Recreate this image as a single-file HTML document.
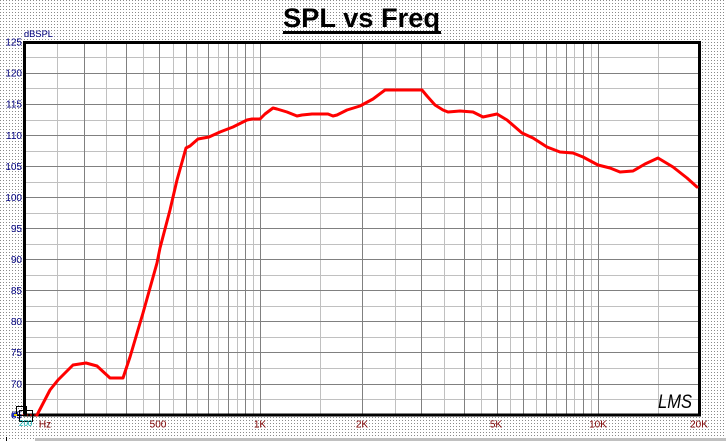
<!DOCTYPE html>
<html>
<head>
<meta charset="utf-8">
<style>
  html,body{margin:0;padding:0;background:#fff;}
  svg{display:block;}
  text{font-family:"Liberation Sans",Arial,sans-serif;}
</style>
</head>
<body>
<svg width="726" height="441" viewBox="0 0 726 441" xmlns="http://www.w3.org/2000/svg">
  <defs>
    <pattern id="dots" x="0" y="0" width="3" height="3" patternUnits="userSpaceOnUse">
      <rect width="3" height="3" fill="#ffffff"/>
      <rect x="0" y="0" width="1" height="1" fill="#8a8a8a"/>
    </pattern>
  </defs>
  <!-- background -->
  <rect x="0" y="0" width="726" height="441" fill="url(#dots)"/>
  <!-- bottom bar -->
  <rect x="35" y="438" width="691" height="3" fill="#c0c0c0"/>
  <rect x="6" y="437" width="1" height="4" fill="#000"/>

  <!-- title -->
  <text x="283" y="27" font-size="27" font-weight="bold" fill="#000" textLength="157" lengthAdjust="spacingAndGlyphs">SPL vs Freq</text>
  <rect x="283" y="31" width="158" height="3" fill="#000"/>

  <!-- plot area -->
  <rect x="24" y="42" width="676" height="373" fill="#ffffff"/>

  <g shape-rendering="crispEdges" stroke-width="1">
    <!-- light horizontal -->
    <g stroke="#c0c0c0">
      <line x1="25" x2="699" y1="57.5" y2="57.5"/>
      <line x1="25" x2="699" y1="88.5" y2="88.5"/>
      <line x1="25" x2="699" y1="120.5" y2="120.5"/>
      <line x1="25" x2="699" y1="151.5" y2="151.5"/>
      <line x1="25" x2="699" y1="182.5" y2="182.5"/>
      <line x1="25" x2="699" y1="213.5" y2="213.5"/>
      <line x1="25" x2="699" y1="244.5" y2="244.5"/>
      <line x1="25" x2="699" y1="275.5" y2="275.5"/>
      <line x1="25" x2="699" y1="306.5" y2="306.5"/>
      <line x1="25" x2="699" y1="337.5" y2="337.5"/>
      <line x1="25" x2="699" y1="368.5" y2="368.5"/>
      <line x1="25" x2="699" y1="399.5" y2="399.5"/>
    </g>
    <!-- light vertical -->
    <g stroke="#c0c0c0">
      <line y1="43" y2="414" x1="57.5" x2="57.5"/>
      <line y1="43" y2="414" x1="106.5" x2="106.5"/>
      <line y1="43" y2="414" x1="143.5" x2="143.5"/>
      <line y1="43" y2="414" x1="173.5" x2="173.5"/>
      <line y1="43" y2="414" x1="197.5" x2="197.5"/>
      <line y1="43" y2="414" x1="218.5" x2="218.5"/>
      <line y1="43" y2="414" x1="237.5" x2="237.5"/>
      <line y1="43" y2="414" x1="253.5" x2="253.5"/>
      <line y1="43" y2="414" x1="320.5" x2="320.5"/>
      <line y1="43" y2="414" x1="395.5" x2="395.5"/>
      <line y1="43" y2="414" x1="444.5" x2="444.5"/>
      <line y1="43" y2="414" x1="481.5" x2="481.5"/>
      <line y1="43" y2="414" x1="510.5" x2="510.5"/>
      <line y1="43" y2="414" x1="536.5" x2="536.5"/>
      <line y1="43" y2="414" x1="556.5" x2="556.5"/>
      <line y1="43" y2="414" x1="574.5" x2="574.5"/>
      <line y1="43" y2="414" x1="591.5" x2="591.5"/>
      <line y1="43" y2="414" x1="658.5" x2="658.5"/>
    </g>
    <!-- dark horizontal -->
    <g stroke="#808080">
      <line x1="25" x2="699" y1="73.5" y2="73.5"/>
      <line x1="25" x2="699" y1="104.5" y2="104.5"/>
      <line x1="25" x2="699" y1="135.5" y2="135.5"/>
      <line x1="25" x2="699" y1="166.5" y2="166.5"/>
      <line x1="25" x2="699" y1="197.5" y2="197.5"/>
      <line x1="25" x2="699" y1="228.5" y2="228.5"/>
      <line x1="25" x2="699" y1="259.5" y2="259.5"/>
      <line x1="25" x2="699" y1="290.5" y2="290.5"/>
      <line x1="25" x2="699" y1="321.5" y2="321.5"/>
      <line x1="25" x2="699" y1="352.5" y2="352.5"/>
      <line x1="25" x2="699" y1="384.5" y2="384.5"/>
    </g>
    <!-- dark vertical -->
    <g stroke="#808080">
      <line y1="43" y2="414" x1="84.5" x2="84.5"/>
      <line y1="43" y2="414" x1="126.5" x2="126.5"/>
      <line y1="43" y2="414" x1="159.5" x2="159.5"/>
      <line y1="43" y2="414" x1="186.5" x2="186.5"/>
      <line y1="43" y2="414" x1="208.5" x2="208.5"/>
      <line y1="43" y2="414" x1="228.5" x2="228.5"/>
      <line y1="43" y2="414" x1="245.5" x2="245.5"/>
      <line y1="43" y2="414" x1="260.5" x2="260.5"/>
      <line y1="43" y2="414" x1="362.5" x2="362.5"/>
      <line y1="43" y2="414" x1="421.5" x2="421.5"/>
      <line y1="43" y2="414" x1="464.5" x2="464.5"/>
      <line y1="43" y2="414" x1="497.5" x2="497.5"/>
      <line y1="43" y2="414" x1="523.5" x2="523.5"/>
      <line y1="43" y2="414" x1="546.5" x2="546.5"/>
      <line y1="43" y2="414" x1="566.5" x2="566.5"/>
      <line y1="43" y2="414" x1="583.5" x2="583.5"/>
      <line y1="43" y2="414" x1="598.5" x2="598.5"/>
    </g>
  </g>

  <!-- frame -->
  <rect x="24.5" y="42.5" width="675" height="372.5" fill="none" stroke="#000" stroke-width="3" shape-rendering="crispEdges"/>

  <!-- curve -->
  <line x1="22" y1="415" x2="37" y2="415" stroke="#ff0000" stroke-width="1" stroke-dasharray="2,2"/>
  <polyline fill="none" stroke="#ff0000" stroke-width="3" stroke-linejoin="round" stroke-linecap="round"
    points="37,415 50,390 58,380 73,365 86,363 97,366 110,378 123,378 130,357 143,313 157,263 160,248 170,210 177,180 186,148 190,146 198,139 209,137 220,132 233,127 247,120 252,119 260,119 265,114 273,108 277,109 287,112 297,116 302,115 312,114 328,114 333,116 337,115 347,110 360,106 373,99 385,90 422,90 427,96 435,105 443,110 448,112 460,111 473,112 483,117 497,114 507,120 522,133 533,138 547,147 560,152 573,153 583,157 598,165 610,168 620,172 633,171 645,164 658,158 673,167 687,178 697,187"/>

  <!-- y labels -->
  <g font-size="10" fill="#000080" text-anchor="end">
    <text x="22" y="45.5">125</text>
    <text x="22" y="76.5">120</text>
    <text x="22" y="107.5">115</text>
    <text x="22" y="139">110</text>
    <text x="22" y="170">105</text>
    <text x="22" y="201">100</text>
    <text x="22" y="232">95</text>
    <text x="22" y="263">90</text>
    <text x="22" y="294">85</text>
    <text x="22" y="325">80</text>
    <text x="22" y="356">75</text>
    <text x="22" y="387.5">70</text>
    <text x="22" y="418.5">65</text>
  </g>
  <text x="24" y="37" font-size="9" fill="#000080" textLength="29" lengthAdjust="spacingAndGlyphs">dBSPL</text>

  <!-- x labels -->
  <g font-size="10" fill="#800000" text-anchor="middle">
    <text x="45" y="427.5">Hz</text>
    <text x="158" y="427.5">500</text>
    <text x="260" y="427.5">1K</text>
    <text x="362" y="427.5">2K</text>
    <text x="496" y="427.5">5K</text>
    <text x="598" y="427.5">10K</text>
    <text x="699" y="427.5">20K</text>
  </g>

  <!-- bottom-left icon -->
  <g shape-rendering="crispEdges">
    <rect x="16.5" y="406.5" width="10" height="9" fill="none" stroke="#000" stroke-width="1"/>
    <rect x="19.5" y="410.5" width="13" height="11" fill="none" stroke="#000" stroke-width="1"/>
    <rect x="12" y="413" width="4" height="4" fill="#2030c0"/>
    <rect x="14" y="414" width="3" height="2" fill="#e0d000"/>
  </g>
  <text x="19" y="426" font-size="8" fill="#00b0b0">200</text>

  <!-- LMS logo -->
  <text x="658" y="408" font-size="19" font-style="italic" fill="#000" textLength="34" lengthAdjust="spacingAndGlyphs">LMS</text>
</svg>
</body>
</html>
